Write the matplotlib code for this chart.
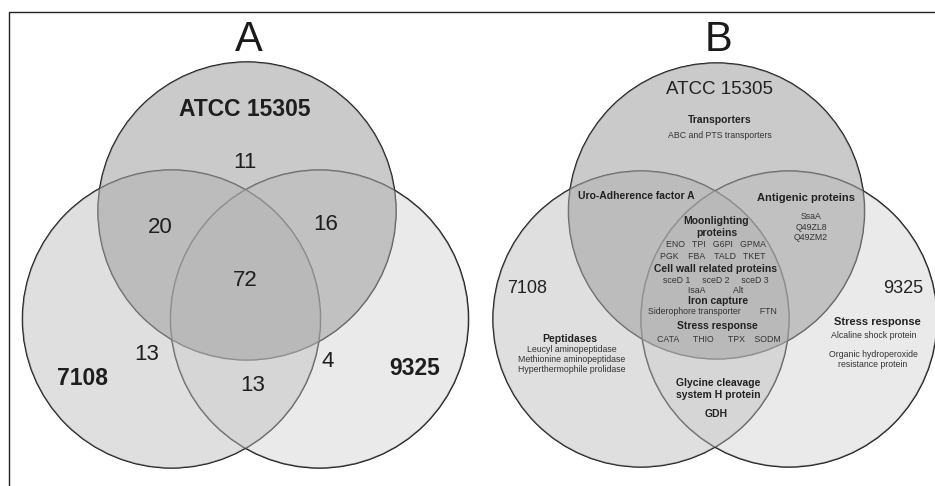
import matplotlib.pyplot as plt
from matplotlib.patches import Circle, Rectangle

plt.rcParams['font.family'] = ['Liberation Sans', 'DejaVu Sans']

# strains and shared-protein counts per Venn region (panel A)
strains = ['ATCC 15305', '7108', '9325']
count_keys = ['ATCC only', 'ATCC+7108', 'ATCC+9325', 'all', '7108 only', '7108+9325', '9325 only']
count_vals = [11, 20, 16, 72, 13, 13, 4]

# functional groups per Venn region (panel B): (text, bold)
b_lines = [
    ('Transporters', True), ('ABC and PTS transporters', False),
    ('Uro-Adherence factor A', True),
    ('Antigenic proteins', True), ('SsaA', False), ('Q49ZL8', False), ('Q49ZM2', False),
    ('Moonlighting', True), ('proteins', True),
    ('ENO   TPI   G6PI   GPMA', False), ('PGK    FBA    TALD   TKET', False),
    ('Cell wall related proteins', True),
    ('sceD 1     sceD 2     sceD 3', False), ('IsaA            Alt', False),
    ('Iron capture', True), ('Siderophore transporter        FTN', False),
    ('Stress response', True), ('CATA      THIO      TPX    SODM', False),
    ('Peptidases', True), ('Leucyl aminopeptidase', False),
    ('Methionine aminopeptidase', False), ('Hyperthermophile prolidase', False),
    ('Stress response', True), ('Alcaline shock protein', False),
    ('Organic hydroperoxide', False), ('resistance protein', False),
    ('Glycine cleavage', True), ('system H protein', True), ('GDH', True),
]

# ---- layout (pixel space) ----
panels = {'A': (245.5, 319, 149), 'B': (715, 319, 148)}  # mid x, lower-row y, radius
dx, dy = 74, 108
fill_cols = {'top': ('#a4a4a4', 0.58), 'left': ('#bdbdbd', 0.48), 'right': ('#c8c8c8', 0.38)}

count_pos = [(245, 162), (160, 227), (326, 224), (245, 280), (147, 354), (253, 385), (328, 361)]
strain_pos_a = [(245, 109), (82, 378), (415, 368)]
strain_pos_b = [(720, 90), (527, 288), (903, 288)]
b_pos = [
    (720, 120), (720, 135),
    (636, 196),
    (806, 198), (811, 216), (811, 227), (811, 237),
    (716, 221), (717, 233),
    (716, 244), (713, 256),
    (716, 269),
    (716, 280), (716, 290),
    (718, 301), (712, 311),
    (717, 326), (719, 339),
    (570, 339), (572, 349.5), (572, 359), (572, 369),
    (877, 322), (874, 335), (873, 354.5), (873, 364.5),
    (718, 382.5), (718, 394.5), (716, 414),
]

fig = plt.figure(figsize=(9.35, 4.86), dpi=100)
ax = fig.add_axes([0, 0, 1, 1])
ax.set_xlim(0, 935)
ax.set_ylim(486, 0)
ax.axis('off')

# outer frame, open to the right and bottom
ax.add_patch(Rectangle((9, 12), 1200, 1200, fill=False, lw=1.0, ec='#222222', zorder=5))

for name, (mx, my, r) in panels.items():
    centres = {'top': (mx + 1.5, my - dy), 'left': (mx - dx, my), 'right': (mx + dx, my)}
    # outlines first so the translucent fills grey them where circles overlap
    for key in ['left', 'right', 'top']:
        ax.add_patch(Circle(centres[key], r, fill=False, ec='#111111', lw=1.1, zorder=1))
    for key in ['left', 'right', 'top']:
        col, a = fill_cols[key]
        ax.add_patch(Circle(centres[key], r, fc=col, ec='none', alpha=a, zorder=2))
    ax.text(mx + 3, 40, name, fontsize=30, ha='center', va='center', color='#1a1a1a', zorder=6)

for (x, y), v in zip(count_pos, count_vals):
    ax.text(x, y, str(v), fontsize=16, ha='center', va='center', color='#1e1e1e', zorder=6)

for (x, y), s in zip(strain_pos_a, strains):
    ax.text(x, y, s, fontsize=16.5, fontweight='bold', ha='center', va='center',
            color='#1e1e1e', zorder=6)

for i, ((x, y), s) in enumerate(zip(strain_pos_b, strains)):
    fs = 13.5 if i == 0 else 13
    ax.text(x, y, s, fontsize=fs, ha='center', va='center', color='#222222', zorder=6)

for (x, y), (s, bold) in zip(b_pos, b_lines):
    if bold:
        fs = 8 if s == 'Antigenic proteins' or (s == 'Stress response' and x > 800) else 7.5
        ax.text(x, y, s, fontsize=fs, fontweight='bold', ha='center', va='center',
                color='#222222', zorder=6)
    else:
        ax.text(x, y, s, fontsize=6.3, ha='center', va='center', color='#333333', zorder=6)

fig.savefig('out.png', dpi=100)
